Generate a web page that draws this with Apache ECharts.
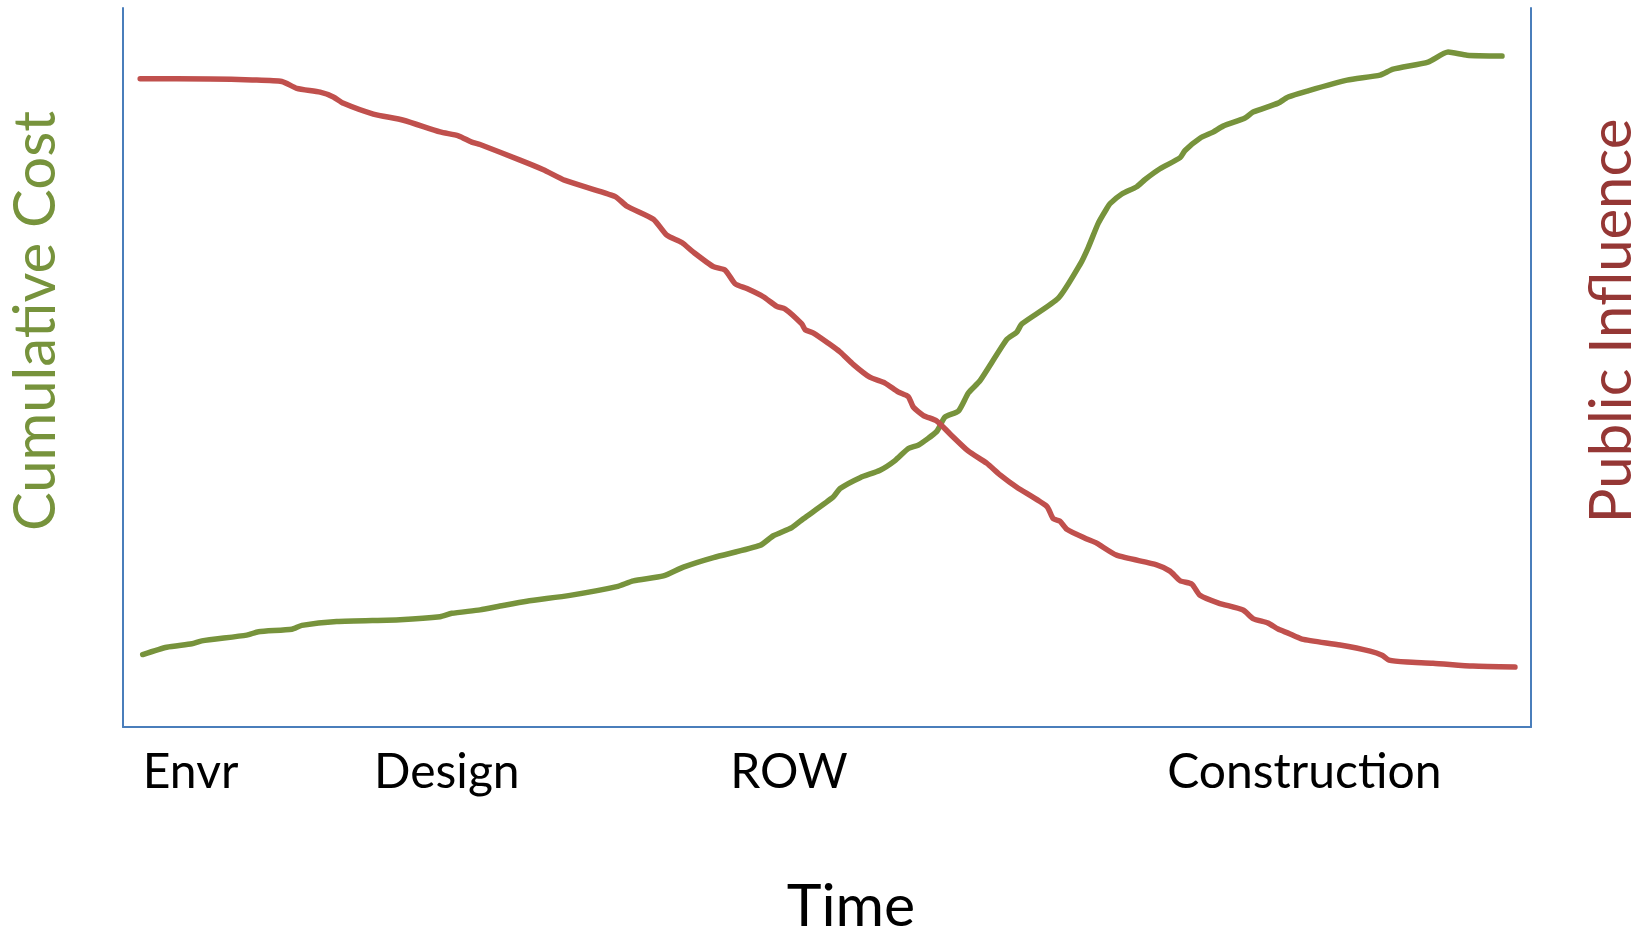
<!DOCTYPE html>
<html>
<head>
<meta charset="utf-8">
<script src="https://cdn.jsdelivr.net/npm/echarts@6/dist/echarts.min.js"></script>
<style>
html,body{margin:0;padding:0;background:#fff;}
#chart{width:1647px;height:932px;}
</style>
</head>
<body>
<div id="chart"></div>
<script>
// Time position (0-100) and Cumulative Cost (0-100)
const costX = [1.40,3.11,4.89,5.60,8.79,9.62,11.99,12.70,15.18,19.68,22.52,23.35,25.36,26.78,28.68,31.75,35.07,36.25,38.38,39.80,41.93,45.24,46.19,47.50,48.32,50.45,50.93,52.35,53.77,54.83,55.78,56.49,57.79,58.38,59.33,60.05,60.87,62.77,63.48,63.84,66.43,67.98,68.56,69.27,69.87,70.10,70.94,72.00,72.59,73.65,75.08,75.43,76.49,77.42,78.13,79.69,80.26,82.04,82.75,84.10,86.94,89.28,90.21,92.69,94.11,95.46,97.94];
const costY = [10.08,11.10,11.57,11.98,12.78,13.25,13.59,14.13,14.67,14.93,15.34,15.81,16.29,16.82,17.50,18.31,19.52,20.32,21.01,22.24,23.57,25.25,26.60,27.74,28.96,32.00,33.16,34.68,35.71,37.05,38.73,39.21,41.10,43.11,43.93,46.49,48.17,53.91,54.93,56.06,59.64,64.36,66.72,70.08,72.11,72.79,74.13,75.14,76.15,77.64,79.19,80.19,81.89,82.74,83.57,84.69,85.53,86.77,87.62,88.45,89.97,90.67,91.50,92.48,93.87,93.44,93.31];
// Time position (0-100) and Public Influence (0-100)
const inflX = [1.22,6.19,9.18,11.28,12.34,14.00,14.94,15.66,17.78,19.92,22.52,23.82,24.77,25.36,28.20,29.86,31.40,34.95,35.78,37.67,38.62,39.69,40.51,41.93,42.76,43.47,44.31,45.48,46.43,47.02,48.21,48.45,49.04,50.10,50.93,51.88,53.04,54.12,55.05,55.77,56.14,56.85,57.79,58.74,60.02,61.34,62.29,63.48,65.61,66.07,66.54,67.03,68.45,69.15,70.57,73.41,74.36,75.08,75.91,76.49,77.81,79.55,80.26,81.33,82.04,82.75,83.74,86.44,88.57,89.42,89.92,91.20,93.04,95.88,98.86];
const inflY = [90.17,90.14,90.00,89.78,88.83,88.29,87.62,86.74,85.25,84.39,82.77,82.23,81.35,81.01,78.85,77.51,76.02,73.79,72.45,70.62,68.40,67.38,66.04,64.02,63.55,61.65,60.98,59.84,58.50,58.15,56.06,55.25,54.79,53.37,52.16,50.40,48.65,47.83,46.61,45.95,44.46,43.32,42.57,40.76,38.40,36.70,35.06,33.34,30.68,28.96,28.64,27.50,26.15,25.57,23.90,22.56,21.68,20.34,19.87,18.32,17.24,16.26,15.08,14.45,13.62,13.06,12.23,11.40,10.55,9.99,9.31,9.03,8.88,8.47,8.33];
// Phase labels on the time axis
const phaseLabels = ['Envr','Design','ROW','Construction'];
const phasePos = [4.8,23.0,47.3,83.9];

const FONT = 'Lato, "Open Sans", sans-serif';
const chart = echarts.init(document.getElementById('chart'));
const pairs = (xs, ys) => xs.map((x, i) => [x, ys[i]]);

chart.setOption({
  animation: false,
  backgroundColor: '#ffffff',
  grid: {left: 123, right: 116, top: 8, bottom: 205, containLabel: false, outerBoundsMode: 'none'},
  xAxis: {
    type: 'value', min: 0, max: 100,
    axisLine: {show: true, lineStyle: {color: '#4A7EBB', width: 2}},
    axisTick: {show: false},
    splitLine: {show: false},
    axisLabel: {
      show: true, customValues: phasePos, margin: 22,
      color: '#000', fontFamily: FONT, fontSize: 48,
      formatter: v => { const i = phasePos.findIndex(p => Math.abs(p - v) < 1e-6); return i >= 0 ? phaseLabels[i] : ''; }
    },
    name: 'Time', nameLocation: 'middle', nameGap: 150,
    nameTextStyle: {color: '#000', fontFamily: FONT, fontSize: 59, padding: [0, 0, 0, 48]}
  },
  yAxis: [
    {type: 'value', min: 0, max: 100, position: 'left',
     axisLine: {show: true, lineStyle: {color: '#4A7EBB', width: 2}},
     axisTick: {show: false}, axisLabel: {show: false}, splitLine: {show: false}},
    {type: 'value', min: 0, max: 100, position: 'right',
     axisLine: {show: true, lineStyle: {color: '#4A7EBB', width: 2}},
     axisTick: {show: false}, axisLabel: {show: false}, splitLine: {show: false}}
  ],
  graphic: [
    {type: 'text', x: 36, y: 321, rotation: Math.PI / 2,
     style: {text: 'Cumulative Cost', fill: '#77933C', font: '58px ' + FONT, align: 'center', verticalAlign: 'middle'}},
    {type: 'text', x: 1612, y: 321, rotation: Math.PI / 2,
     style: {text: 'Public Influence', fill: '#953735', font: '58px ' + FONT, align: 'center', verticalAlign: 'middle'}}
  ],
  series: [
    {name: 'Cumulative Cost', type: 'line', yAxisIndex: 0, data: pairs(costX, costY),
     showSymbol: false, smooth: 0.2, lineStyle: {color: '#77933C', width: 5.5, join: 'round', cap: 'round'}},
    {name: 'Public Influence', type: 'line', yAxisIndex: 1, data: pairs(inflX, inflY),
     showSymbol: false, smooth: 0.2, lineStyle: {color: '#C0504D', width: 5.5, join: 'round', cap: 'round'}}
  ]
});
</script>
</body>
</html>
